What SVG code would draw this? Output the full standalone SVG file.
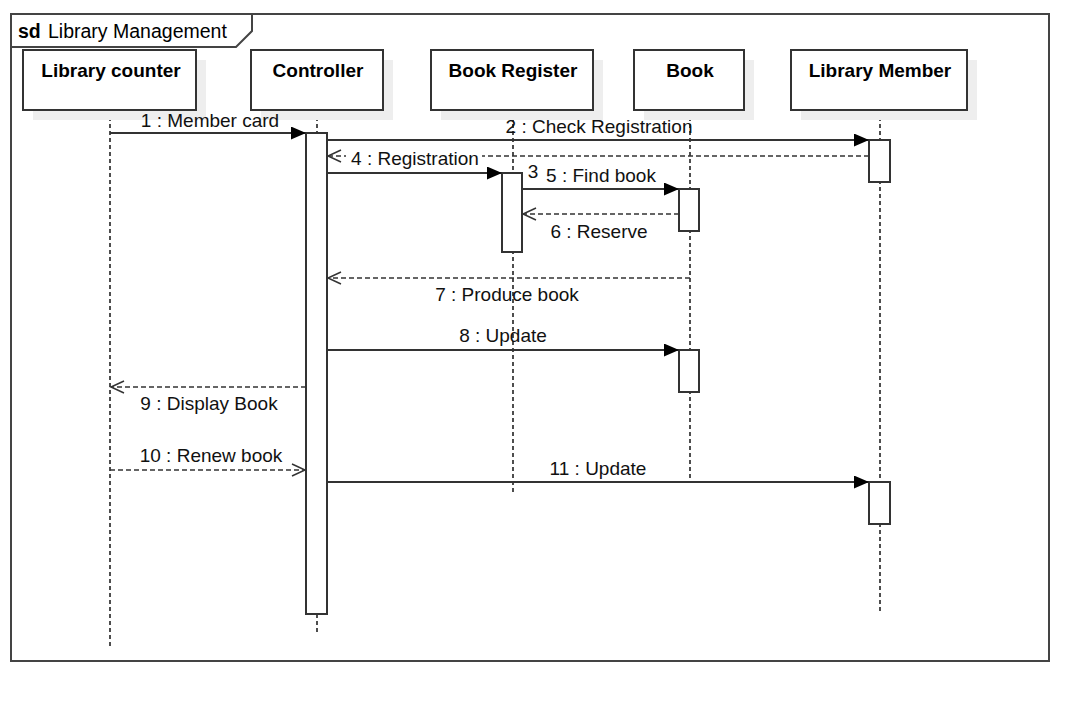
<svg xmlns="http://www.w3.org/2000/svg" width="1068" height="703" viewBox="0 0 1068 703">
<style>
  .frame{fill:none;stroke:#444;stroke-width:2}
  .head{fill:#fff;stroke:#333;stroke-width:2}
  .shadow{fill:#eeeeee;stroke:none}
  .hl{font-family:"Liberation Sans",Arial,sans-serif;font-size:19px;font-weight:bold;fill:#000;text-anchor:middle}
  .life{stroke:#222;stroke-width:1.6;stroke-dasharray:4 3;fill:none}
  .act{fill:#fff;stroke:#333;stroke-width:2}
  .msg{stroke:#333;stroke-width:2;fill:none}
  .ret{stroke:#333;stroke-width:1.5;fill:none;stroke-dasharray:5 3}
  .lbl{font-family:"Liberation Sans",Arial,sans-serif;font-size:19px;fill:#111;text-anchor:middle}
</style>
<defs>
  <marker id="filled" markerUnits="userSpaceOnUse" markerWidth="16" markerHeight="14" refX="15" refY="6.5" orient="auto">
    <path d="M0,0 L15,6.5 L0,13 z" fill="#000"/>
  </marker>
  <marker id="open" markerUnits="userSpaceOnUse" markerWidth="16" markerHeight="16" refX="14" refY="7" orient="auto">
    <path d="M1,1 L14,7 L1,13" fill="none" stroke="#333" stroke-width="1.5"/>
  </marker>
</defs>
<rect width="1068" height="703" fill="#fff"/>
<g id="frame">
  <rect class="frame" x="11" y="14" width="1038" height="647"/>
  <path class="frame" d="M11,47 L236,47 L252,31 L252,14"/>
  <text x="18" y="38" font-family="Liberation Sans,Arial,sans-serif" font-size="19.5" fill="#000"><tspan font-weight="bold">sd</tspan><tspan x="48">Library Management</tspan></text>
</g>
<g id="lifelines">
  <line class="life" x1="110" y1="110" x2="110" y2="647"/>
  <line class="life" x1="317" y1="110" x2="317" y2="634"/>
  <line class="life" x1="513" y1="110" x2="513" y2="494"/>
  <line class="life" x1="690" y1="110" x2="690" y2="481"/>
  <line class="life" x1="880" y1="110" x2="880" y2="611"/>
</g>
<g id="library-counter">
  <rect class="shadow" x="33" y="60" width="173" height="60"/>
  <rect class="head" x="23" y="50" width="173" height="60"/>
  <text class="hl" x="111" y="77">Library counter</text>
</g>
<g id="controller">
  <rect class="shadow" x="261" y="60" width="132" height="60"/>
  <rect class="head" x="251" y="50" width="132" height="60"/>
  <text class="hl" x="318" y="77">Controller</text>
</g>
<g id="book-register">
  <rect class="shadow" x="441" y="60" width="162" height="60"/>
  <rect class="head" x="431" y="50" width="162" height="60"/>
  <text class="hl" x="513" y="77">Book Register</text>
</g>
<g id="book">
  <rect class="shadow" x="644" y="60" width="110" height="60"/>
  <rect class="head" x="634" y="50" width="110" height="60"/>
  <text class="hl" x="690" y="77">Book</text>
</g>
<g id="library-member">
  <rect class="shadow" x="801" y="60" width="176" height="60"/>
  <rect class="head" x="791" y="50" width="176" height="60"/>
  <text class="hl" x="880" y="77">Library Member</text>
</g>
<g id="activations">
  <rect class="act" x="306" y="133" width="21" height="481"/>
  <rect class="act" x="502" y="173" width="20" height="79"/>
  <rect class="act" x="679" y="189" width="20" height="42"/>
  <rect class="act" x="679" y="350" width="20" height="42"/>
  <rect class="act" x="869" y="140" width="21" height="42"/>
  <rect class="act" x="869" y="482" width="21" height="42"/>
</g>
<g id="connectors">
  <line class="msg" x1="110" y1="133" x2="306" y2="133" marker-end="url(#filled)"/>
  <text class="lbl" x="210" y="127">1 : Member card</text>
  <line class="msg" x1="327" y1="140" x2="869" y2="140" marker-end="url(#filled)"/>
  <text class="lbl" x="599" y="133">2 : Check Registration</text>
  <line class="ret" x1="869" y1="156" x2="328" y2="156" marker-end="url(#open)"/>
  <rect x="346" y="149" width="136" height="18" fill="#fff"/>
  <text class="lbl" x="415" y="165">4 : Registration</text>
  <line class="msg" x1="327" y1="173" x2="502" y2="173" marker-end="url(#filled)"/>
  <text class="lbl" x="533" y="178">3</text>
  <line class="msg" x1="522" y1="189" x2="679" y2="189" marker-end="url(#filled)"/>
  <text class="lbl" x="601" y="182">5 : Find book</text>
  <line class="ret" x1="679" y1="214" x2="523" y2="214" marker-end="url(#open)"/>
  <text class="lbl" x="599" y="238">6 : Reserve</text>
  <line class="ret" x1="690" y1="278" x2="328" y2="278" marker-end="url(#open)"/>
  <text class="lbl" x="507" y="301">7 : Produce book</text>
  <line class="msg" x1="327" y1="350" x2="679" y2="350" marker-end="url(#filled)"/>
  <text class="lbl" x="503" y="342">8 : Update</text>
  <line class="ret" x1="306" y1="387" x2="111" y2="387" marker-end="url(#open)"/>
  <text class="lbl" x="209" y="410">9 : Display Book</text>
  <line class="ret" x1="110" y1="470" x2="305" y2="470" marker-end="url(#open)"/>
  <text class="lbl" x="211" y="462">10 : Renew book</text>
  <line class="msg" x1="327" y1="482" x2="869" y2="482" marker-end="url(#filled)"/>
  <text class="lbl" x="598" y="475">11 : Update</text>
</g>
</svg>
